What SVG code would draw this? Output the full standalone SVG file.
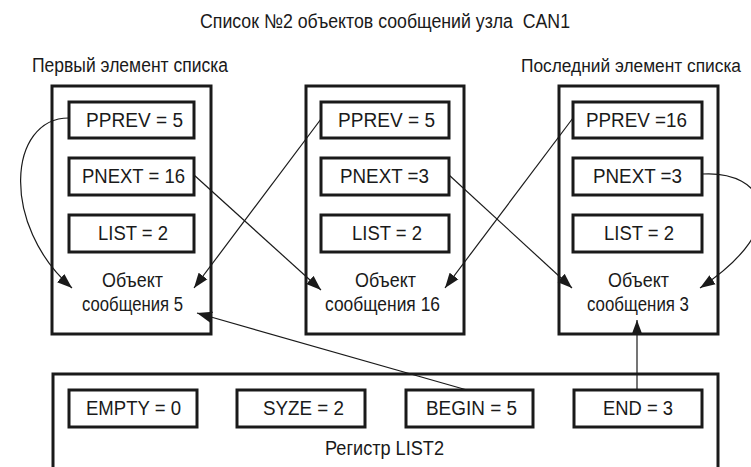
<svg xmlns="http://www.w3.org/2000/svg" width="751" height="467" viewBox="0 0 751 467">
<style>
.box{fill:#fff;stroke:#1a1a1a;stroke-width:3}
.cell{fill:#fff;stroke:#1a1a1a;stroke-width:3}
.t{font-family:"Liberation Sans",Arial,sans-serif;font-size:20px;fill:#1a1a1a}
.c{fill:none;stroke:#1a1a1a;stroke-width:1.2}
</style>
<defs>
<marker id="ah" markerUnits="userSpaceOnUse" markerWidth="16" markerHeight="12" refX="15" refY="6" orient="auto">
<path d="M0,0.5 L15,6 L0,11.5 z" fill="#1a1a1a"/>
</marker>
</defs>
<rect width="751" height="467" fill="#fff"/>
<g id="title">
<text class="t" x="200" y="28" textLength="370" lengthAdjust="spacingAndGlyphs" xml:space="preserve" style="white-space:pre">Список №2 объектов сообщений узла  CAN1</text>
<text class="t" x="32" y="72" textLength="196" lengthAdjust="spacingAndGlyphs">Первый элемент списка</text>
<text class="t" x="521" y="72" textLength="220" lengthAdjust="spacingAndGlyphs" style="font-size:18px">Последний элемент списка</text>
</g>
<g id="obj5">
<rect class="box" x="52" y="86" width="159" height="248"/>
<rect class="cell" x="69" y="102" width="125" height="36"/>
<rect class="cell" x="69" y="158" width="125" height="37"/>
<rect class="cell" x="69" y="215" width="125" height="37"/>
<text class="t" x="86" y="127" textLength="97" lengthAdjust="spacingAndGlyphs">PPREV = 5</text>
<text class="t" x="82" y="183" textLength="103" lengthAdjust="spacingAndGlyphs">PNEXT = 16</text>
<text class="t" x="98" y="240" textLength="70" lengthAdjust="spacingAndGlyphs">LIST = 2</text>
<text class="t" x="102" y="287" textLength="61" lengthAdjust="spacingAndGlyphs">Объект</text>
<text class="t" x="82" y="311" textLength="101" lengthAdjust="spacingAndGlyphs">сообщения 5</text>
</g>
<g id="obj16">
<rect class="box" x="306" y="86" width="158" height="248"/>
<rect class="cell" x="321" y="102" width="128" height="36"/>
<rect class="cell" x="321" y="158" width="128" height="37"/>
<rect class="cell" x="321" y="215" width="128" height="37"/>
<text class="t" x="338" y="127" textLength="97" lengthAdjust="spacingAndGlyphs">PPREV = 5</text>
<text class="t" x="340" y="183" textLength="89" lengthAdjust="spacingAndGlyphs">PNEXT =3</text>
<text class="t" x="352" y="240" textLength="70" lengthAdjust="spacingAndGlyphs">LIST = 2</text>
<text class="t" x="355" y="287" textLength="61" lengthAdjust="spacingAndGlyphs">Объект</text>
<text class="t" x="325" y="311" textLength="115" lengthAdjust="spacingAndGlyphs">сообщения 16</text>
</g>
<g id="obj3">
<rect class="box" x="559" y="86" width="159" height="248"/>
<rect class="cell" x="573" y="102" width="129" height="36"/>
<rect class="cell" x="573" y="158" width="129" height="37"/>
<rect class="cell" x="573" y="215" width="129" height="37"/>
<text class="t" x="586" y="127" textLength="101" lengthAdjust="spacingAndGlyphs">PPREV =16</text>
<text class="t" x="593" y="183" textLength="89" lengthAdjust="spacingAndGlyphs">PNEXT =3</text>
<text class="t" x="604" y="240" textLength="70" lengthAdjust="spacingAndGlyphs">LIST = 2</text>
<text class="t" x="608" y="287" textLength="61" lengthAdjust="spacingAndGlyphs">Объект</text>
<text class="t" x="587" y="311" textLength="102" lengthAdjust="spacingAndGlyphs">сообщения 3</text>
</g>
<g id="list2">
<rect class="box" x="53" y="374" width="665" height="110"/>
<rect class="cell" x="69" y="390" width="128" height="37"/>
<rect class="cell" x="237" y="390" width="128" height="37"/>
<rect class="cell" x="406" y="390" width="127" height="37"/>
<rect class="cell" x="574" y="390" width="128" height="37"/>
<text class="t" x="86" y="415" textLength="95" lengthAdjust="spacingAndGlyphs">EMPTY = 0</text>
<text class="t" x="263" y="415" textLength="81" lengthAdjust="spacingAndGlyphs">SYZE = 2</text>
<text class="t" x="426" y="415" textLength="91" lengthAdjust="spacingAndGlyphs">BEGIN = 5</text>
<text class="t" x="603" y="415" textLength="70" lengthAdjust="spacingAndGlyphs">END = 3</text>
<text class="t" x="325" y="455" textLength="119" lengthAdjust="spacingAndGlyphs">Регистр LIST2</text>
</g>
<g id="connectors">
<path class="c" d="M69,118 C8,118 0,225 72,288" marker-end="url(#ah)"/>
<path class="c" d="M194,175 L321,290" marker-end="url(#ah)"/>
<path class="c" d="M321,119 L194,288" marker-end="url(#ah)"/>
<path class="c" d="M449,175 L572,288" marker-end="url(#ah)"/>
<path class="c" d="M573,118 L445,288" marker-end="url(#ah)"/>
<path class="c" d="M702,174 C765,170 795,225 700,288" marker-end="url(#ah)"/>
<path class="c" d="M467,390 L197,313" marker-end="url(#ah)"/>
<path class="c" d="M637,390 L637,320" marker-end="url(#ah)"/>
</g>
</svg>
